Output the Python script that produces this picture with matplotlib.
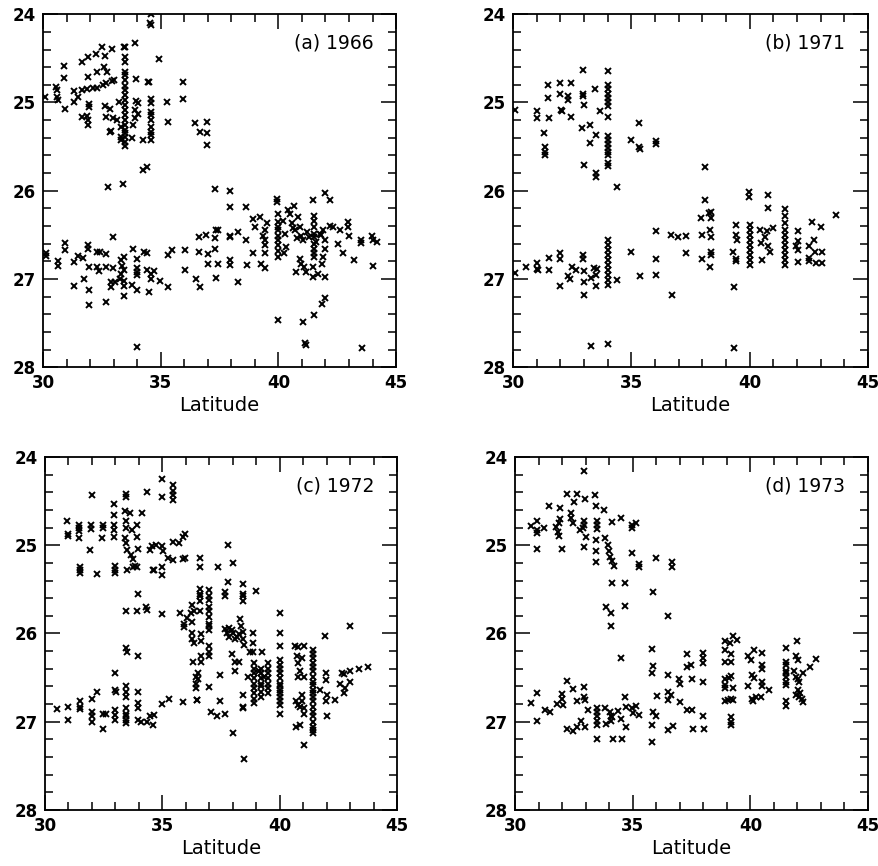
import matplotlib
matplotlib.use('Agg')
from matplotlib import pyplot as plt
from matplotlib.ticker import MultipleLocator

# (a) 1966
lat_a = [30.1, 30.57, 30.6, 30.6, 30.64, 30.9, 30.9, 30.94, 31.3, 31.3, 31.5,
         31.67, 31.9, 32.27, 32.5, 32.64, 32.95, 33.43,
         31.93, 32.3, 32.6, 32.7,
         31.66, 31.87, 32.13, 32.3, 32.55, 32.66, 32.95, 33.03,
         31.96, 31.96, 31.67, 31.87, 31.93, 31.93,
         32.64, 32.66, 32.86, 32.98, 32.84, 32.9, 33.15, 33.23, 33.3,
         33.5, 33.5, 33.5, 33.5, 33.5, 33.5, 33.5, 33.5, 33.5, 33.5,
         33.5, 33.5, 33.5, 33.5, 33.5, 33.5, 33.5, 33.5, 33.5, 33.5,
         33.3, 33.3,
         33.92, 33.94, 33.94, 33.9, 33.9, 33.83, 34.04, 34.04, 33.76,
         34.26, 34.26, 34.4, 34.44, 34.5, 34.54, 34.6, 34.6,
         34.6, 34.6, 34.6, 34.6, 34.6, 34.6, 34.6, 34.6, 34.6,
         34.93, 35.25, 35.32, 35.93, 35.96, 36.45, 36.66, 36.95, 36.95, 36.95,
         32.76, 33.4,
         30.14, 30.14, 30.64, 30.64, 30.95, 30.95, 31.3, 31.3, 31.5, 31.7,
         31.72, 31.91, 31.91, 31.96, 31.96, 31.96, 32.3, 32.4, 32.3, 32.36,
         32.66, 32.66, 32.66, 32.98, 32.98, 32.88, 32.88, 33.05,
         33.26, 33.33, 33.33, 33.37, 33.43, 33.43, 33.43, 33.43, 33.43,
         33.83, 33.8, 33.97, 33.97, 33.97, 33.97, 33.97, 34.0,
         34.3, 34.4, 34.4, 34.57, 34.6, 34.7, 34.5, 34.97,
         35.32, 35.46, 35.32, 36.03, 36.03, 36.5, 36.66, 36.64, 36.64, 36.91,
         37.0, 37.0, 37.3, 37.33, 37.43, 37.3, 37.3, 37.43, 37.33,
         37.94, 37.94, 37.94, 37.94, 37.94, 37.94, 38.3, 38.3, 38.62, 38.62, 38.65,
         38.93, 39.0, 38.93, 39.2, 39.24,
         39.36, 39.43, 39.43, 39.43, 39.43, 39.43, 39.5,
         39.93, 39.93,
         40.0, 40.0, 40.0, 40.0, 40.0, 40.0, 40.0, 40.0, 40.0, 40.0,
         40.2, 40.27, 40.33, 40.23, 40.4, 40.5, 40.67, 40.56, 40.7, 40.77,
         40.84, 40.9, 40.98, 41.06, 40.9, 40.98, 41.08, 40.75, 41.03, 41.13, 41.17, 41.17,
         41.49, 41.5, 41.5, 41.5, 41.5, 41.5, 41.5, 41.5, 41.5, 41.5, 41.49, 41.49,
         41.52, 41.7, 41.77, 41.84, 41.98, 41.84, 41.91, 41.98, 41.98, 41.91, 41.98, 41.98,
         42.2, 42.34, 42.2, 42.55, 42.62, 42.76, 42.97, 42.97, 43.01, 43.21,
         43.5, 43.5, 43.55, 43.97, 44.0, 44.04, 44.2,
         41.3, 41.6, 41.2, 40.6, 41.8]
sig_a = [24.94, 24.82, 24.86, 24.94, 24.97, 24.59, 24.72, 25.07, 24.87, 25.0, 24.94,
         24.54, 24.48, 24.45, 24.37, 24.47, 24.39, 24.37,
         24.71, 24.65, 24.6, 24.65,
         24.86, 24.85, 24.84, 24.84, 24.8, 24.78, 24.76, 24.74,
         25.02, 25.05, 25.16, 25.15, 25.2, 25.25,
         25.04, 25.16, 25.07, 25.18, 25.33, 25.32, 25.2, 24.99, 25.28,
         24.37, 24.48, 24.54, 24.65, 24.69, 24.75, 24.81, 24.86, 24.92, 24.97,
         25.03, 25.09, 25.14, 25.2, 25.26, 25.31, 25.35, 25.39, 25.45, 25.49,
         25.39, 25.43,
         24.33, 24.73, 24.98, 25.09, 25.18, 25.26, 25.01, 25.13, 25.4,
         25.43, 25.77, 25.73, 24.77, 24.77, 24.1, 24.12, 24.0,
         24.96, 25.01, 25.11, 25.14, 25.2, 25.28, 25.33, 25.37, 25.43,
         24.51, 24.99, 25.22, 24.77, 24.96, 25.23, 25.33, 25.22, 25.35, 25.48,
         25.96, 25.92,
         26.71, 26.74, 26.8, 26.85, 26.59, 26.67, 26.81, 27.08, 26.74, 26.76,
         27.0, 26.62, 26.66, 26.87, 27.12, 27.29, 26.69, 26.69, 26.87, 26.91,
         26.72, 26.87, 27.26, 26.53, 26.88, 27.04, 27.09, 27.04,
         27.0, 26.94, 26.79, 26.85, 26.75, 26.9, 27.02, 27.08, 27.19,
         26.66, 27.07, 26.77, 26.88, 26.92, 26.96, 27.13, 27.77,
         26.7, 26.71, 26.9, 26.94, 27.0, 26.91, 27.15, 27.02,
         26.73, 26.67, 27.09, 26.67, 26.9, 27.0, 27.09, 26.53, 26.7, 26.5,
         26.72, 26.83, 25.98, 26.44, 26.45, 26.54, 26.66, 26.83, 26.99,
         26.0, 26.19, 26.51, 26.53, 26.78, 26.84, 26.47, 27.04, 26.19, 26.56, 26.84,
         26.32, 26.41, 26.71, 26.3, 26.83,
         26.51, 26.45, 26.56, 26.62, 26.71, 26.88, 26.37,
         26.09, 26.13,
         26.26, 26.35, 26.41, 26.45, 26.51, 26.56, 26.62, 26.68, 26.75, 27.47,
         26.34, 26.49, 26.64, 26.71, 26.22, 26.26, 26.17, 26.37, 26.45, 26.54,
         26.3, 26.41, 26.51, 26.56, 26.77, 26.83, 26.87, 26.92, 27.49, 27.73, 27.75, 26.92,
         26.11, 26.29, 26.34, 26.41, 26.49, 26.53, 26.6, 26.66, 26.71, 26.75, 26.87, 26.98,
         27.41, 26.94, 26.49, 27.28, 27.22, 26.83, 26.75, 26.66, 26.56, 26.45, 26.03, 26.98,
         26.4, 26.41, 26.11, 26.6, 26.45, 26.71, 26.36, 26.41, 26.51, 26.79,
         26.56, 26.59, 27.78, 26.51, 26.85, 26.56, 26.58,
         26.52, 26.58, 26.47, 26.42, 26.5]

# (b) 1971
lat_b = [30.07, 31.01, 31.01, 31.3, 31.35, 31.35, 31.35, 31.48, 31.48, 31.52,
         31.97, 32.0, 32.04, 32.08, 32.32, 32.32, 32.46, 32.46, 32.96, 32.96, 32.96,
         33.0, 32.93, 33.01, 33.27, 33.27, 33.45, 33.49, 33.49, 33.49, 33.66,
         34.0, 34.0, 34.0, 34.0, 34.0, 34.0, 34.0, 34.0, 34.0, 34.0, 34.0, 34.0,
         34.0, 34.0, 34.0, 34.0,
         34.39, 35.0, 35.32, 35.32, 35.35, 36.03, 36.03, 38.1, 38.1,
         30.07, 30.56, 31.01, 31.01, 31.06, 31.52, 31.52, 32.0, 32.0, 32.0,
         32.32, 32.42, 32.5, 32.68, 32.96, 32.96, 32.99, 32.99, 33.01,
         33.31, 33.31, 33.41, 33.52, 33.52, 33.55,
         34.0, 34.0, 34.0, 34.0, 34.0, 34.0, 34.0, 34.0, 34.0, 34.0, 34.01,
         34.39, 35.0, 35.35, 36.03, 36.03, 36.06, 36.73, 36.69, 36.97, 37.3, 37.32,
         37.96, 37.99, 37.99, 38.28, 38.31, 38.34, 38.38, 38.38, 38.38, 38.38, 38.38,
         39.32, 39.32, 39.3, 39.41, 39.41, 39.46, 39.44, 39.44, 39.97, 39.97,
         40.0, 40.0, 40.0, 40.0, 40.0, 40.0, 40.0, 40.0, 40.0,
         40.45, 40.49, 40.54, 40.63, 40.73, 40.77, 40.77, 40.77, 40.84, 40.99,
         41.5, 41.5, 41.5, 41.5, 41.5, 41.5, 41.5, 41.5, 41.5, 41.5, 41.5,
         42.04, 42.04, 42.04, 42.04, 41.97, 42.5, 42.52, 42.65, 42.7, 42.75, 42.79, 42.52,
         43.03, 43.07, 43.07, 43.63]
sig_b = [25.09, 25.1, 25.18, 25.35, 25.5, 25.56, 25.59, 24.8, 24.95, 25.18,
         24.78, 24.9, 25.09, 25.1, 24.93, 24.97, 24.78, 25.17, 24.63, 24.9, 24.93,
         25.03, 25.29, 25.71, 25.26, 25.46, 24.85, 25.37, 25.8, 25.85, 25.1,
         24.64, 24.8, 24.85, 24.9, 24.95, 25.0, 25.04, 25.17, 25.38, 25.43, 25.47, 25.52,
         25.56, 25.59, 25.69, 25.72,
         25.96, 25.43, 25.23, 25.5, 25.53, 25.44, 25.47, 25.73, 26.1,
         26.93, 26.86, 26.82, 26.89, 26.9, 26.76, 26.9, 26.71, 26.77, 27.08,
         26.97, 27.0, 26.86, 26.9, 26.73, 26.77, 26.91, 27.03, 27.18,
         26.99, 27.76, 26.88, 26.95, 27.08, 26.89,
         26.56, 26.61, 26.67, 26.73, 26.78, 26.84, 26.9, 26.95, 27.01, 27.07, 27.74,
         27.01, 26.7, 26.97, 26.46, 26.77, 26.95, 27.18, 26.5, 26.53, 26.51, 26.71,
         26.31, 26.5, 26.77, 26.25, 26.45, 26.86, 26.24, 26.31, 26.53, 26.7, 26.73,
         27.09, 27.78, 26.7, 26.39, 26.5, 26.56, 26.77, 26.8, 26.01, 26.07,
         26.39, 26.44, 26.5, 26.56, 26.61, 26.67, 26.73, 26.78, 26.84,
         26.44, 26.59, 26.78, 26.53, 26.46, 26.63, 26.05, 26.2, 26.69, 26.42,
         26.21, 26.29, 26.37, 26.44, 26.5, 26.56, 26.61, 26.67, 26.73, 26.78, 26.84,
         26.46, 26.57, 26.67, 26.81, 26.63, 26.63, 26.76, 26.35, 26.56, 26.69, 26.82, 26.8,
         26.41, 26.7, 26.82, 26.27]

# (c) 1972
lat_c = [30.92, 31.0, 31.0, 31.46, 31.46, 31.46, 31.46, 31.49, 31.49, 31.49,
         31.99, 31.95, 31.95, 31.92, 32.2, 32.45, 32.45, 32.42,
         32.96, 32.96, 32.96, 32.96, 32.96, 32.99, 32.99, 32.99,
         33.46, 33.46, 33.41, 33.46, 33.46, 33.41, 33.46, 33.48, 33.48, 33.46,
         33.63, 33.7, 33.67, 33.74, 33.74, 33.84, 34.12, 33.94, 33.94, 33.98, 33.94,
         33.98, 33.94, 34.34, 34.31, 34.34, 34.48, 34.55, 34.59, 34.65, 34.73, 34.98, 35.02,
         34.98, 34.98, 34.98, 34.98, 34.98, 35.45, 35.45, 35.45, 35.45, 35.26, 35.47,
         35.47, 35.69, 35.9, 35.97, 35.87, 35.97, 35.76, 35.94, 35.94, 36.04,
         36.61, 36.61, 37.39, 37.79, 38.03, 37.79, 37.68, 37.68,
         38.43, 38.43, 38.43, 38.43, 39.0,
         36.6, 36.6, 36.6, 36.6, 36.6,
         37.0, 37.0, 37.0, 37.0, 37.0, 37.0, 37.0, 37.0, 37.0, 37.0, 37.0, 37.0,
         36.26, 36.33, 36.21, 36.26, 36.26, 36.26, 36.33, 36.63, 36.63, 36.63, 36.63, 36.3,
         36.44, 36.44, 36.44, 36.47, 36.54, 36.54, 37.0, 37.07, 37.32, 37.46, 37.46, 37.68,
         37.68, 37.75, 37.86, 37.86, 37.96, 38.03, 38.1, 38.2, 38.28,
         37.96, 38.1, 38.28, 38.1,
         38.3, 38.33, 38.43, 38.45, 38.48, 38.43, 38.43, 38.45, 38.46, 38.03,
         38.67, 38.74, 38.88, 38.86, 38.88, 39.24,
         38.9, 38.9, 38.9, 38.9, 38.9, 38.9, 38.9, 38.9, 38.9,
         39.2, 39.2, 39.2, 39.2, 39.2, 39.2, 39.2, 39.1, 39.31,
         39.5, 39.5, 39.5, 39.5, 39.5, 39.5, 39.5,
         40.02, 40.02, 40.02,
         40.0, 40.0, 40.0, 40.0, 40.0, 40.0, 40.0, 40.0, 40.0, 40.0, 40.0, 40.0, 40.0,
         40.66, 40.8, 41.02, 40.73, 40.95, 40.8, 40.88, 40.8, 41.02,
         40.7, 40.8, 40.95, 40.95, 41.02, 41.02, 40.88, 40.7, 40.88, 41.02,
         41.4, 41.4, 41.4, 41.4, 41.4, 41.4, 41.4, 41.4, 41.4, 41.4,
         41.4, 41.4, 41.4, 41.4, 41.4, 41.4, 41.4, 41.4, 41.4, 41.4,
         41.73, 41.94, 41.98, 41.98, 42.01, 41.98, 42.01, 42.37,
         42.56, 42.65, 42.73, 42.73, 42.8, 42.98, 42.98, 43.01, 43.37, 43.75,
         30.5, 31.0, 31.0, 31.49, 31.49, 31.49, 31.99, 31.99, 31.99, 31.99, 32.23,
         32.46, 32.6, 32.49, 32.99, 32.99, 33.03, 32.99, 32.99, 32.99,
         33.46, 33.46, 33.46, 33.46, 33.46, 33.46, 33.46, 33.46, 33.46, 33.48,
         33.98, 33.98, 33.98, 33.98, 33.98, 34.08, 34.34, 34.48, 34.65, 34.59,
         34.98, 35.3, 35.9, 36.47]
sig_c = [24.72, 24.87, 24.9, 24.77, 24.81, 24.84, 24.92, 25.25, 25.28, 25.31,
         24.43, 24.77, 24.82, 25.05, 25.33, 24.77, 24.81, 24.92,
         24.53, 24.66, 24.77, 24.83, 24.91, 25.23, 25.28, 25.32,
         24.42, 24.45, 24.61, 24.72, 24.81, 24.92, 24.98, 25.05, 25.28, 25.75,
         24.63, 24.83, 25.11, 25.16, 25.25, 25.23, 24.63, 24.77, 24.91, 25.04, 25.25,
         25.55, 25.74, 24.4, 25.7, 25.73, 25.05, 25.01, 25.28, 25.28, 25.0, 25.01, 25.06,
         24.25, 24.45, 25.25, 25.34, 25.78, 24.32, 24.38, 24.43, 24.49, 25.15, 25.17,
         24.96, 24.98, 24.91, 24.87, 25.16, 25.14, 25.77, 25.89, 25.93, 25.83,
         25.14, 25.25, 25.25, 25.0, 25.2, 25.42, 25.53, 25.57,
         25.44, 25.55, 25.58, 25.63, 25.52,
         25.5, 25.55, 25.58, 25.63, 25.74,
         25.51, 25.57, 25.62, 25.7, 25.74, 25.81, 25.89, 25.92, 25.96, 26.14, 26.21, 26.25,
         25.68, 25.74, 25.77, 25.87, 26.0, 26.06, 26.11, 26.01, 26.09, 26.26, 26.32, 26.32,
         26.49, 26.57, 26.62, 26.75, 26.45, 26.52, 26.61, 26.89, 26.94, 26.47, 26.77, 26.91,
         25.95, 26.0, 26.04, 25.94, 25.96, 26.0, 26.06, 26.04, 26.01,
         26.23, 26.32, 26.32, 26.42,
         25.84, 25.91, 25.98, 26.06, 26.13, 26.7, 26.83, 26.85, 27.42, 27.13,
         26.49, 26.21, 26.21, 26.11, 26.0, 26.21,
         26.34, 26.4, 26.45, 26.51, 26.57, 26.62, 26.68, 26.74, 26.79,
         26.4, 26.45, 26.51, 26.57, 26.6, 26.66, 26.72, 26.42, 26.49,
         26.34, 26.4, 26.45, 26.51, 26.57, 26.62, 26.68,
         25.77, 26.0, 26.14,
         26.3, 26.36, 26.4, 26.45, 26.51, 26.57, 26.6, 26.64, 26.68, 26.72, 26.77, 26.81, 26.91,
         26.14, 26.15, 26.14, 26.26, 26.28, 26.34, 26.42, 26.49, 26.49,
         26.77, 26.81, 26.7, 26.76, 26.85, 26.91, 26.83, 27.06, 27.04, 27.26,
         26.19, 26.23, 26.28, 26.34, 26.38, 26.43, 26.49, 26.55, 26.58, 26.64,
         26.68, 26.72, 26.77, 26.83, 26.89, 26.94, 27.0, 27.06, 27.09, 27.13,
         26.64, 26.03, 26.45, 26.53, 26.7, 26.77, 26.94, 26.75,
         26.57, 26.45, 26.46, 26.68, 26.62, 26.55, 25.92, 26.42, 26.4, 26.38,
         26.86, 26.83, 26.98, 26.77, 26.83, 26.86, 26.74, 26.89, 26.94, 27.0, 26.66,
         26.91, 26.91, 27.08, 26.45, 26.64, 26.66, 26.87, 26.92, 26.98,
         26.6, 26.66, 26.72, 26.85, 26.91, 26.94, 26.98, 27.02, 26.17, 26.21,
         26.25, 26.66, 26.79, 26.85, 26.98, 27.0, 27.0, 26.94, 26.92, 27.04,
         26.8, 26.74, 26.78, 26.75]

# (d) 1973
lat_d = [30.66, 30.92, 30.95, 30.92, 31.23, 30.95, 31.45,
         31.74, 31.83, 31.88, 31.9, 31.9, 31.88, 31.98,
         32.22, 32.4, 32.4, 32.47, 32.5, 32.64, 32.75, 32.92,
         32.92, 32.92, 32.89, 32.96, 33.03, 32.95,
         33.41, 33.46, 33.49, 33.49, 33.49, 33.46, 33.46, 33.46,
         33.8, 33.84, 33.95, 33.99, 34.02, 34.13, 34.19, 34.13,
         34.13, 33.88, 34.09, 34.09, 34.52, 34.66, 34.66, 34.52,
         34.98, 34.98, 35.15, 34.98, 35.29, 35.29, 36.0, 35.86, 36.49, 36.66, 36.66,
         30.66, 30.95, 30.95, 31.27, 31.48, 31.79, 31.98, 31.98, 32.02, 32.22,
         32.22, 32.47, 32.64, 32.47, 32.64, 32.82, 32.92, 32.94, 32.96, 32.96, 33.1,
         33.5, 33.5, 33.5, 33.5, 33.5, 33.5,
         33.81, 33.88, 34.05, 34.09, 34.09, 34.13, 34.16, 34.37, 34.49, 34.56,
         34.66, 34.7, 34.7, 34.98, 35.01, 35.15, 35.29,
         35.83, 35.86, 35.83, 35.86, 35.97, 35.83, 35.83, 36.03,
         36.49, 36.49, 36.49, 36.63, 36.49, 36.7, 36.98, 37.01, 37.01,
         37.29, 37.29, 37.48, 37.52, 37.29, 37.52, 37.55,
         38.0, 38.0, 38.0, 38.0, 38.0, 38.04,
         38.93, 38.93, 38.93, 38.93, 38.93, 38.93, 38.93,
         39.13, 39.17, 39.17, 39.17, 39.1, 39.27, 39.45, 39.27, 39.17, 39.27, 39.07,
         39.17, 39.17, 39.17,
         39.92, 40.02, 40.16, 40.09, 40.16, 39.92, 40.09, 40.12, 40.23,
         40.48, 40.48, 40.48, 40.48, 40.48, 40.44, 40.79,
         41.5, 41.5, 41.5, 41.5, 41.5, 41.5, 41.5, 41.5, 41.5, 41.5,
         41.99, 41.95, 42.04, 41.85, 41.95, 42.04, 42.06, 41.95, 42.04, 42.06, 42.13, 42.2,
         42.23, 42.23, 42.52, 42.77]
sig_d = [24.78, 24.72, 24.83, 24.86, 24.8, 25.04, 24.55,
         24.79, 24.85, 24.75, 24.7, 24.58, 24.89, 25.04,
         24.42, 24.64, 24.69, 24.75, 24.51, 24.42, 24.83, 24.16,
         24.72, 24.77, 24.81, 24.48, 24.91, 25.02,
         24.43, 24.55, 24.72, 24.77, 24.82, 24.94, 25.06, 25.19,
         24.6, 24.92, 25.0, 25.06, 25.13, 25.18, 25.23, 24.74,
         25.43, 25.7, 25.77, 25.92, 24.69, 25.43, 25.69, 26.28,
         24.77, 24.81, 24.75, 25.09, 25.21, 25.25, 25.15, 25.53, 25.8, 25.19, 25.25,
         26.79, 26.68, 26.99, 26.87, 26.89, 26.8, 26.69, 26.74, 26.81, 26.54,
         27.08, 27.11, 27.06, 26.63, 26.76, 26.99, 26.61, 26.72, 26.75, 27.06, 26.87,
         26.84, 26.89, 26.94, 26.99, 27.04, 27.2,
         26.85, 27.03, 26.89, 26.94, 26.99, 26.95, 27.2, 26.88, 26.97, 27.2,
         26.72, 26.83, 27.06, 26.85, 26.9, 26.82, 26.92,
         26.18, 26.37, 26.45, 26.89, 26.94, 27.04, 27.23, 26.71,
         26.47, 26.66, 26.75, 26.7, 27.09, 27.05, 26.52, 26.57, 26.78,
         26.23, 26.38, 26.36, 26.52, 26.87, 26.87, 27.08,
         26.22, 26.28, 26.34, 26.55, 26.94, 27.08,
         26.08, 26.19, 26.32, 26.52, 26.58, 26.62, 26.76,
         26.11, 26.23, 26.32, 26.48, 26.51, 26.03, 26.07, 26.62, 26.74, 26.75, 26.75,
         26.95, 27.0, 27.04,
         26.26, 26.3, 26.19, 26.47, 26.51, 26.6, 26.74, 26.77, 26.72,
         26.22, 26.36, 26.4, 26.55, 26.6, 26.72, 26.64,
         26.16, 26.32, 26.36, 26.42, 26.45, 26.49, 26.55, 26.58, 26.77, 26.82,
         26.08, 26.26, 26.3, 26.43, 26.49, 26.52, 26.55, 26.7, 26.64, 26.72, 26.68, 26.74,
         26.78, 26.45, 26.38, 26.29]

panels = [
    ('(a) 1966', lat_a, sig_a, [0.049, 0.576, 0.4016, 0.4076]),
    ('(b) 1971', lat_b, sig_b, [0.5836, 0.576, 0.4039, 0.4076]),
    ('(c) 1972', lat_c, sig_c, [0.0512, 0.0647, 0.4005, 0.4076]),
    ('(d) 1973', lat_d, sig_d, [0.5859, 0.0647, 0.4016, 0.4076]),
]

fig = plt.figure(figsize=(8.79, 8.66), dpi=100, facecolor='white')

for title, lat, sig, rect in panels:
    ax = fig.add_axes(rect)
    ax.plot(lat, sig, 'x', color='black', markersize=4.8, markeredgewidth=1.4)
    ax.set_xlim(30, 45)
    ax.set_ylim(28, 24)
    ax.xaxis.set_major_locator(MultipleLocator(5))
    ax.xaxis.set_minor_locator(MultipleLocator(1))
    ax.yaxis.set_major_locator(MultipleLocator(1))
    ax.yaxis.set_minor_locator(MultipleLocator(0.2))
    ax.tick_params(which='both', direction='in', top=True, right=True,
                   color='black', width=1.1)
    ax.tick_params(which='major', length=11, labelsize=12, pad=5)
    ax.tick_params(which='minor', length=5.5)
    for label in ax.get_xticklabels() + ax.get_yticklabels():
        label.set_fontweight('bold')
    for spine in ax.spines.values():
        spine.set_linewidth(1.3)
    ax.set_xlabel('Latitude', fontsize=14, labelpad=3)
    ax.text(0.935, 0.918, title, transform=ax.transAxes, ha='right', va='center',
            fontsize=13.5)

plt.savefig('out.png', dpi=100)
